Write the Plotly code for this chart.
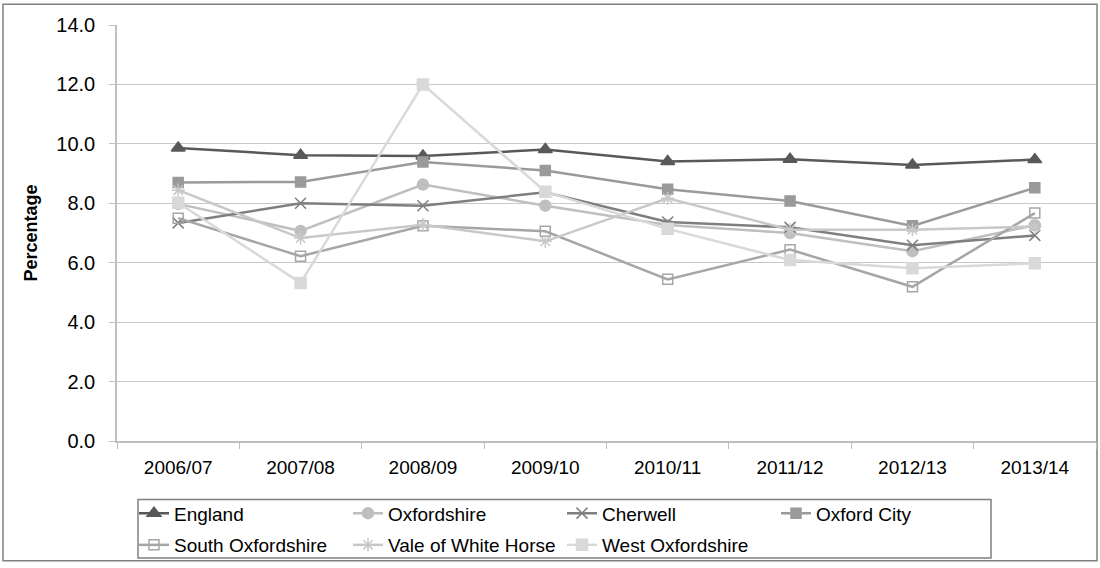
import plotly.graph_objects as go

years = ["2006/07", "2007/08", "2008/09", "2009/10", "2010/11", "2011/12", "2012/13", "2013/14"]
england = [9.86, 9.62, 9.59, 9.81, 9.41, 9.48, 9.29, 9.47]
oxfordshire = [7.98, 7.07, 8.63, 7.92, 7.27, 7.00, 6.39, 7.26]
cherwell = [7.34, 8.00, 7.92, 8.37, 7.37, 7.19, 6.59, 6.92]
oxford_city = [8.70, 8.72, 9.39, 9.10, 8.47, 8.08, 7.24, 8.52]
south_oxon = [7.50, 6.22, 7.24, 7.06, 5.44, 6.44, 5.19, 7.67]
vale = [8.44, 6.83, 7.28, 6.72, 8.17, 7.11, 7.11, 7.22]
west_oxon = [8.02, 5.32, 12.00, 8.39, 7.14, 6.09, 5.81, 5.98]
y_ticks = [0, 2, 4, 6, 8, 10, 12, 14]

series = [
    ("England", england, "#595959", "triangle-up", 12, "legend"),
    ("Oxfordshire", oxfordshire, "#bfbfbf", "circle", 11, "legend"),
    ("Cherwell", cherwell, "#7f7f7f", "x-thin-open", 11, "legend"),
    ("Oxford City", oxford_city, "#9a9a9a", "square", 10, "legend"),
    ("South Oxfordshire", south_oxon, "#a6a6a6", "square-open", 10, "legend2"),
    ("Vale of White Horse", vale, "#c8c8c8", "asterisk-open", 11, "legend2"),
    ("West Oxfordshire", west_oxon, "#d9d9d9", "square", 11, "legend2"),
]

fig = go.Figure()
for name, vals, col, sym, size, leg in series:
    fig.add_trace(go.Scatter(
        x=years, y=vals, name=name, mode="lines+markers", legend=leg,
        line=dict(color=col, width=2.5),
        marker=dict(symbol=sym, size=size, color=col, line=dict(color=col, width=1.5)),
    ))

W, H = 1100, 568
ml, mr, mt, mb = 117, 4, 25, 123
pw, ph = W - ml - mr, H - mt - mb

def px_x(p):
    return (p - ml) / pw

def px_y(p):
    return 1 - (p - mt) / ph

font = "Liberation Sans, Arial, sans-serif"
leg_common = dict(
    orientation="h", xanchor="left", yanchor="middle",
    bgcolor="rgba(0,0,0,0)", borderwidth=0, entrywidth=169, entrywidthmode="pixels",
    font=dict(size=19, family=font), itemwidth=30,
)
fig.update_layout(
    width=W, height=H,
    margin=dict(l=ml, r=mr, t=mt, b=mb),
    paper_bgcolor="white", plot_bgcolor="white",
    font=dict(family=font, size=19, color="#000000"),
    xaxis=dict(
        type="category", showgrid=False, showline=True, linecolor="#bfbfbf", linewidth=1.5,
        ticks="outside", tickson="boundaries", ticklen=6, tickcolor="#bfbfbf",
        tickfont=dict(size=19), range=[-0.5, 7.5], ticklabelstandoff=8,
    ),
    yaxis=dict(
        range=[0, 14], tickvals=y_ticks, tickformat=".1f", showgrid=True,
        gridcolor="#c8c8c8", gridwidth=1.2, showline=True, linecolor="#bfbfbf", linewidth=1.5,
        ticks="outside", ticklen=6, tickcolor="#bfbfbf", zeroline=False,
        title=dict(text="<b>Percentage</b>", font=dict(size=18), standoff=14),
        tickfont=dict(size=20), ticklabelstandoff=10,
    ),
    legend=dict(x=px_x(134), y=px_y(518), **leg_common),
    legend2=dict(x=px_x(134), y=px_y(550), **leg_common),
    showlegend=True,
)

# legend frame
fig.add_shape(type="rect", xref="paper", yref="paper",
              x0=px_x(138), x1=px_x(991), y0=px_y(563), y1=px_y(504),
              line=dict(color="#808080", width=1.5), fillcolor="rgba(0,0,0,0)", layer="below")
# outer chart frame
fig.add_shape(type="rect", xref="paper", yref="paper",
              x0=px_x(3), x1=px_x(1097), y0=px_y(566), y1=px_y(4),
              line=dict(color="#808080", width=1.5), fillcolor="rgba(0,0,0,0)", layer="below")

fig.write_html(
    "out.html",
    config={"displayModeBar": False},
    post_script="document.body.style.margin='0';document.body.style.overflow='hidden';",
)
